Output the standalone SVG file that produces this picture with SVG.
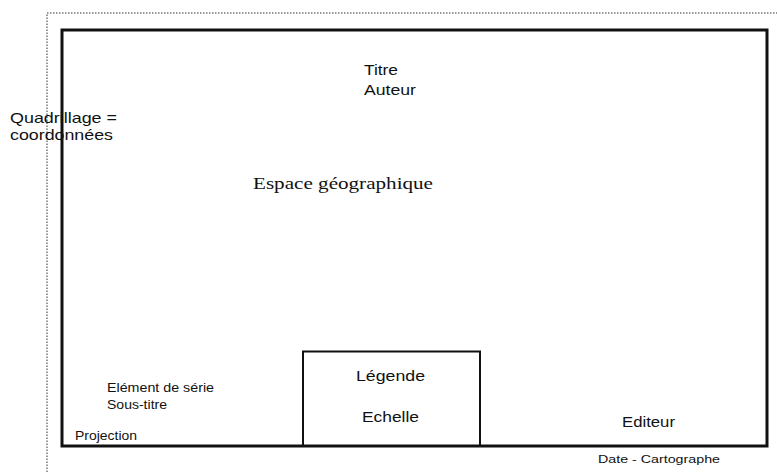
<svg xmlns="http://www.w3.org/2000/svg" width="777" height="472" viewBox="0 0 777 472">
<style>
.s{font-family:"Liberation Sans",Arial,sans-serif;fill:#111}
.t{font-family:"Liberation Serif","Times New Roman",serif;fill:#111}
</style>
<rect width="777" height="472" fill="#fff"/>
<g id="page">
<path d="M47,472 V13 H777" fill="none" stroke="#777" stroke-width="1.5" stroke-dasharray="1.5,1.5"/>
</g>
<g id="map-frame">
<rect x="62" y="30" width="705" height="416" fill="none" stroke="#111" stroke-width="3"/>
</g>
<g id="legend-box">
<path d="M303,446 V351.5 H480 V446" fill="none" stroke="#111" stroke-width="2"/>
<text class="s" x="356" y="381" font-size="15" textLength="69" lengthAdjust="spacingAndGlyphs">Légende</text>
<text class="s" x="362" y="422" font-size="15" textLength="57" lengthAdjust="spacingAndGlyphs">Echelle</text>
</g>
<g id="title">
<text class="s" x="364" y="75" font-size="15" textLength="34" lengthAdjust="spacingAndGlyphs">Titre</text>
<text class="s" x="364" y="95" font-size="15" textLength="52" lengthAdjust="spacingAndGlyphs">Auteur</text>
</g>
<g id="grid-label">
<text class="s" x="10" y="123" font-size="15" textLength="107" lengthAdjust="spacingAndGlyphs">Quadrillage =</text>
<text class="s" x="10" y="140" font-size="15" textLength="103" lengthAdjust="spacingAndGlyphs">coordonnées</text>
</g>
<g id="space">
<text class="t" x="253" y="189" font-size="17.5" textLength="180" lengthAdjust="spacingAndGlyphs">Espace géographique</text>
</g>
<g id="series">
<text class="s" x="107" y="392" font-size="12.5" textLength="107" lengthAdjust="spacingAndGlyphs">Elément de série</text>
<text class="s" x="107" y="409" font-size="12.5" textLength="60" lengthAdjust="spacingAndGlyphs">Sous-titre</text>
</g>
<g id="projection">
<text class="s" x="75" y="440" font-size="12.5" textLength="62" lengthAdjust="spacingAndGlyphs">Projection</text>
</g>
<g id="editor">
<text class="s" x="622" y="427" font-size="15" textLength="53" lengthAdjust="spacingAndGlyphs">Editeur</text>
</g>
<g id="date">
<text class="s" x="598" y="463" font-size="11.5" textLength="122" lengthAdjust="spacingAndGlyphs">Date - Cartographe</text>
</g>
<g id="connectors"></g>
</svg>
